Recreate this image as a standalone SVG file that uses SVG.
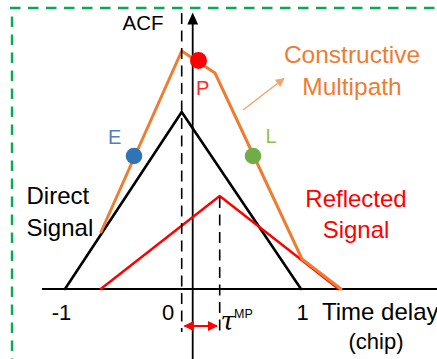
<svg xmlns="http://www.w3.org/2000/svg" width="437" height="359" viewBox="0 0 437 359">
<style>
text{font-family:"Liberation Sans",Arial,sans-serif;}
.border{stroke:#00B050;stroke-width:2.4;stroke-dasharray:10.5 7.5;fill:none;}
.axis{stroke:#000;stroke-width:1.8;fill:none;}
.dash{stroke:#000;stroke-width:1.6;stroke-dasharray:11 6.5;fill:none;}
.curve{fill:none;stroke-linejoin:round;stroke-linecap:round;}
.lbl{font-size:24px;}
.tick{font-size:22px;fill:#000;text-anchor:middle;}
</style>
<defs>
<marker id="redhead" viewBox="0 0 10 10" refX="9" refY="5" markerWidth="5" markerHeight="5" orient="auto-start-reverse" markerUnits="strokeWidth">
<path d="M0,0 L10,5 L0,10 z" fill="#FF0000"/>
</marker>
<marker id="orhead" viewBox="0 0 10 10" refX="9" refY="5" markerWidth="6" markerHeight="6" orient="auto" markerUnits="strokeWidth">
<path d="M0,0 L10,5 L0,10 z" fill="#F4A46A"/>
</marker>
</defs>
<g id="frame">
<line class="border" x1="10" y1="8" x2="437" y2="8"/>
<line class="border" x1="12" y1="16.5" x2="12" y2="359"/>
</g>
<g id="axes">
<line class="axis" x1="42" y1="289" x2="437" y2="289"/>
<line class="axis" x1="192.7" y1="22" x2="192.7" y2="359"/>
<polygon points="192.7,12.5 187.3,24.5 198.1,24.5" fill="#000"/>
<text x="122.5" y="30" style="font-size:20.5px" fill="#000">ACF</text>
<text class="tick" x="61.5" y="319.5">-1</text>
<text class="tick" x="168" y="319.5">0</text>
<text class="tick" x="302.7" y="319.5">1</text>
<text x="322" y="319.5" style="font-size:24px" fill="#000">Time delay</text>
<text x="376" y="349" style="font-size:22px;text-anchor:middle" fill="#000">(chip)</text>
</g>
<g id="direct-signal">
<path class="curve" d="M65,289 L181.7,112 L301,289" stroke="#000" stroke-width="2.6"/>
<text class="lbl" x="26.5" y="203.5" fill="#000">Direct</text>
<text class="lbl" x="26.5" y="235.5" fill="#000">Signal</text>
</g>
<g id="reflected-signal">
<path class="curve" d="M100.7,289 L219.7,196 L338.7,289" stroke="#FF0000" stroke-width="2.4"/>
<text class="lbl" x="356" y="206.7" fill="#FF0000" text-anchor="middle">Reflected</text>
<text class="lbl" x="356" y="238.3" fill="#FF0000" text-anchor="middle">Signal</text>
</g>
<g id="constructive-multipath">
<path class="curve" d="M101,232 L181.7,51 L215,73 L302,259 L341,289" stroke="#ED7D31" stroke-width="3"/>
<text x="352" y="62.7" style="font-size:24.5px" fill="#ED7D31" text-anchor="middle">Constructive</text>
<text x="352" y="95" style="font-size:24.5px" fill="#ED7D31" text-anchor="middle">Multipath</text>
</g>
<g id="guides">
<line class="dash" x1="181.7" y1="13" x2="181.7" y2="332"/>
<line class="dash" x1="219.7" y1="197" x2="219.7" y2="332"/>
</g>
<g id="point-E">
<circle cx="134" cy="156" r="8.3" fill="#2E75B6"/>
<text x="108" y="144" style="font-size:20px" fill="#4F81BD">E</text>
</g>
<g id="point-P">
<circle cx="198.5" cy="60.5" r="8.5" fill="#FF0000"/>
<text x="196" y="95" style="font-size:20px" fill="#FF2A2A">P</text>
</g>
<g id="point-L">
<circle cx="253" cy="156" r="8.3" fill="#70AD47"/>
<text x="265.5" y="142.7" style="font-size:20px" fill="#8CC152">L</text>
</g>
<g id="connectors">
<line x1="243" y1="110" x2="284" y2="78.5" stroke="#F4A46A" stroke-width="1.5" marker-end="url(#orhead)"/>
<line x1="184.5" y1="326" x2="217" y2="326" stroke="#FF0000" stroke-width="2" marker-start="url(#redhead)" marker-end="url(#redhead)"/>
</g>
<g id="tau-label">
<text x="220.5" y="330" style="font-family:'DejaVu Serif',serif;font-style:italic;font-size:26px" fill="#000">τ</text>
<text x="234" y="318" style="font-size:12.5px" fill="#000">MP</text>
</g>
</svg>
